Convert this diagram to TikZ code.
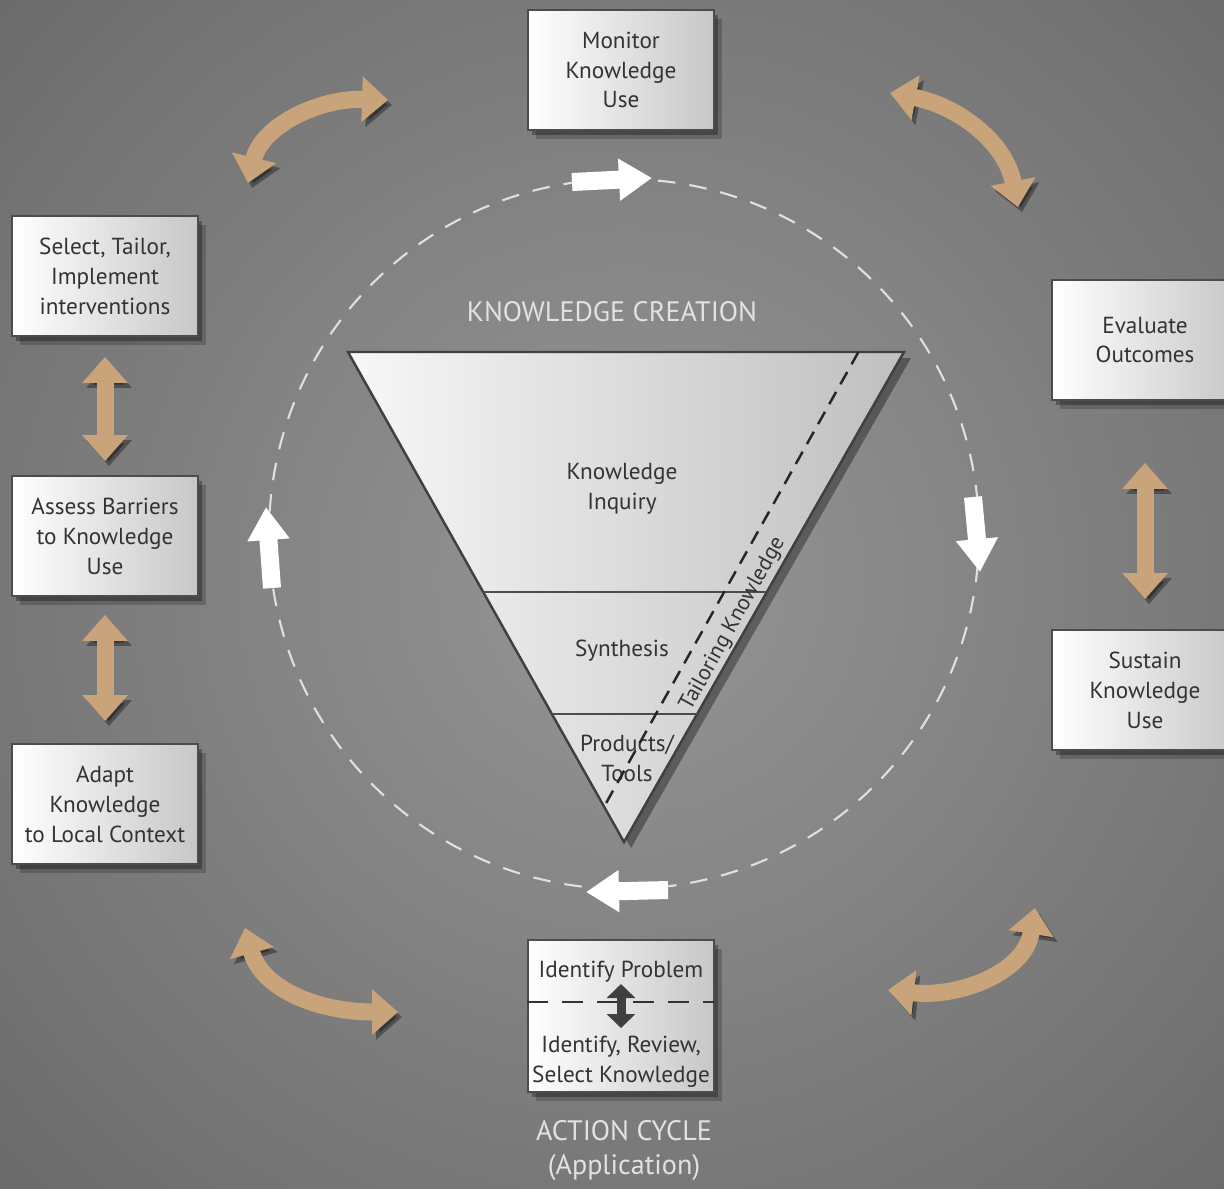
\documentclass[tikz,border=0pt]{standalone}
\usepackage{fontspec}
\setmainfont{PT Sans}
\usetikzlibrary{arrows.meta,calc}
\definecolor{bgin}{RGB}{150,150,150}
\definecolor{bgout}{RGB}{66,66,66}
\definecolor{tanfill}{RGB}{201,164,123}
\definecolor{lbl}{RGB}{226,226,226}
\begin{document}
\begin{tikzpicture}[
    stagebox/.style={draw=black!70,line width=0.5pt,left color=white,right color=black!22,
      minimum width=1.86cm,minimum height=1.2cm,align=center,inner sep=1pt,text=black!80,
      font=\fontsize{6.6}{8.5}\selectfont,
      preaction={fill=black,opacity=0.2,transform canvas={shift={(0.08,-0.09)}}},
      preaction={fill=black,opacity=0.3,transform canvas={shift={(0.04,-0.05)}}}},
    tantips/.style={{Triangle[length=0.26cm,width=0.44cm]}-{Triangle[length=0.26cm,width=0.44cm]}},
    tanarrow/.style={tantips,line width=0.17cm,draw=tanfill,
      preaction={draw=black,opacity=0.35,tantips,transform canvas={shift={(0.04,-0.05)}}}},
    flowarrow/.style={-{Triangle[length=0.33cm,width=0.4cm]},line width=0.18cm,white},
    txt/.style={font=\fontsize{6.6}{8.5}\selectfont,text=black!80,align=center},
    title/.style={font=\fontsize{8}{9.7}\selectfont,text=lbl,align=center}
  ]
  \useasboundingbox (0,0) rectangle (12.24,-11.88);
  \begin{scope}
    \clip (0,0) rectangle (12.24,-11.88);
    \shade[inner color=bgin,outer color=bgout] (6.3,-5.8) circle (17);
  \end{scope}

  \draw[white!88!black,line width=0.6pt,dash pattern=on 5pt off 4pt] (6.24,-5.34) circle (3.55);
  \coordinate (topA) at (5.72,-1.82);
  \coordinate (topB) at (6.52,-1.78);
  \coordinate (rightA) at (9.73,-4.97);
  \coordinate (rightB) at (9.80,-5.72);
  \coordinate (botA) at (6.68,-8.90);
  \coordinate (botB) at (5.86,-8.92);
  \coordinate (leftA) at (2.72,-5.88);
  \coordinate (leftB) at (2.66,-5.07);
  \draw[flowarrow] (topA) -- (topB);
  \draw[flowarrow] (rightA) -- (rightB);
  \draw[flowarrow] (botA) -- (botB);
  \draw[flowarrow] (leftA) -- (leftB);

  \coordinate (tl) at (3.48,-3.52);
  \coordinate (tr) at (9.04,-3.52);
  \coordinate (tb) at (6.24,-8.42);
  \draw[black!75,line width=0.7pt,left color=black!3,right color=black!25,
    preaction={fill=black,opacity=0.35,transform canvas={shift={(0.07,-0.06)}}}] (tl) -- (tr) -- (tb) -- cycle;
  \draw[black!70,line width=0.6pt] ($(tl)!0.49!(tb)$) -- ($(tr)!0.49!(tb)$);
  \draw[black!70,line width=0.6pt] ($(tl)!0.739!(tb)$) -- ($(tr)!0.739!(tb)$);
  \node[title] (creation) at (6.12,-3.12) {KNOWLEDGE CREATION};
  \node[txt] (inquiry) at (6.22,-4.89) {Knowledge\\Inquiry};
  \node[txt] (synthesis) at (6.22,-6.51) {Synthesis};
  \node[txt] (products) at (6.27,-7.58) {Products/\\Tools};
  \coordinate (tk1) at ($(tl)!0.918!(tr)$);
  \coordinate (tk2) at (6.05,-8.05);
  \draw[black!85,line width=0.7pt,dash pattern=on 4pt off 2.5pt] (tk1) -- (tk2);
  \node[txt,rotate=61,inner sep=0pt,font=\fontsize{6.3}{8}\selectfont] (tailoring) at (7.33,-6.24) {Tailoring Knowledge};

  \node[stagebox] (monitor) at (6.21,-0.70) {Monitor\\Knowledge\\Use};
  \node[stagebox] (evaluate) at (11.45,-3.40) {Evaluate\\Outcomes};
  \node[stagebox] (sustain) at (11.45,-6.90) {Sustain\\Knowledge\\Use};
  \node[stagebox] (tailor) at (1.05,-2.76) {Select, Tailor,\\Implement\\interventions};
  \node[stagebox] (barriers) at (1.05,-5.36) {Assess Barriers\\to Knowledge\\Use};
  \node[stagebox] (adapt) at (1.05,-8.04) {Adapt\\Knowledge\\to Local Context};
  \node[stagebox,minimum height=1.52cm] (problem) at (6.21,-10.16) {};
  \node[txt] (identify) at (6.21,-9.72) {Identify Problem};
  \node[txt] (review) at (6.21,-10.615) {Identify, Review,\\Select Knowledge};
  \coordinate (split) at (6.21,-10.02);
  \draw[black!80,line width=0.6pt,dash pattern=on 6pt off 4pt] (problem.west |- split) -- (problem.east |- split);
  \coordinate (up) at (6.21,-9.84);
  \coordinate (down) at (6.21,-10.28);
  \draw[black!75,line width=0.09cm,{Triangle[length=0.14cm,width=0.28cm]}-{Triangle[length=0.14cm,width=0.28cm]}] (up) -- (down);
  \node[title] (cycle) at (6.24,-11.51) {ACTION CYCLE\\(Application)};

  \draw[tanarrow,shorten <=0.2cm,shorten >=0.14cm] (tailor) -- (barriers);
  \draw[tanarrow,shorten <=0.18cm,shorten >=0.22cm] (barriers) -- (adapt);
  \draw[tanarrow,shorten <=0.62cm,shorten >=0.3cm] (evaluate) -- (sustain);
  \coordinate (tlA) at (2.48,-1.83);
  \coordinate (tlB) at (3.88,-1.00);
  \coordinate (trA) at (8.90,-0.93);
  \coordinate (trB) at (10.18,-2.07);
  \coordinate (blA) at (2.45,-9.28);
  \coordinate (blB) at (3.98,-10.12);
  \coordinate (brA) at (8.88,-9.90);
  \coordinate (brB) at (10.35,-9.08);
  \draw[tanarrow] (tlA) .. controls (2.62,-1.25) and (3.20,-0.98) .. (tlB);
  \draw[tanarrow] (trA) .. controls (9.55,-1.05) and (10.05,-1.40) .. (trB);
  \draw[tanarrow] (blA) .. controls (2.62,-9.90) and (3.20,-10.12) .. (blB);
  \draw[tanarrow] (brA) .. controls (9.60,-9.98) and (10.25,-9.72) .. (brB);
\end{tikzpicture}
\end{document}
